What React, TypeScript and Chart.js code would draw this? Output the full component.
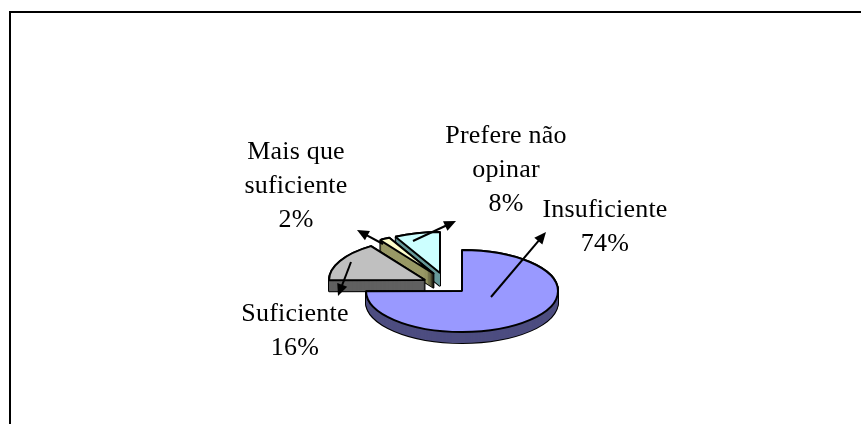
import React, { useEffect, useRef } from "react";
import { Chart, registerables } from "chart.js";

Chart.register(...registerables);

const categories = ["Insuficiente", "Suficiente", "Mais que suficiente", "Prefere não opinar"];
const values = [74.9, 15.6, 1.8, 7.7];
const topColors = ["#9999FF", "#C0C0C0", "#FFFFCC", "#CCFFFF"];
const sideColors = ["#4D4D80", "#606060", "#999966", "#669999"];
const sliceCenters = [[462, 291], [425, 280], [434, 274], [440, 273]];
const sliceDepths = [11, 11, 14, 13];
const drawOrder = [3, 2, 1, 0];
const labelLines = [
  { lines: ["Insuficiente", "74%"], x: 605, y: 217 },
  { lines: ["Suficiente", "16%"], x: 295, y: 321 },
  { lines: ["Mais que", "suficiente", "2%"], x: 296, y: 159 },
  { lines: ["Prefere não", "opinar", "8%"], x: 506, y: 143 },
];
const arrows = [
  [491, 297, 546, 232],
  [351, 262, 338, 296],
  [383, 244, 357, 230],
  [413, 241, 456, 221],
];

const SQUASH = 41 / 96;
const FONT = "26px 'Liberation Serif'";

const piePlugin = {
  id: "flatPie",
  beforeDatasetDraw(chart: any) {
    const ctx: CanvasRenderingContext2D = chart.ctx;
    const arcs = chart.getDatasetMeta(0).data;
    const drawArc = (i: number, dy: number, fill: string, stroke: boolean) => {
      const arc = arcs[i];
      const [cx, cy] = sliceCenters[i];
      ctx.save();
      ctx.translate(cx, cy + dy);
      ctx.scale(1, SQUASH);
      ctx.translate(-arc.x, -arc.y);
      const o = arc.options;
      const saved = [o.backgroundColor, o.borderWidth, o.borderColor];
      o.backgroundColor = fill;
      o.borderWidth = stroke ? 1 : 0;
      o.borderColor = "#000000";
      const origStroke = ctx.stroke;
      (ctx as any).stroke = function () {
        const m = ctx.getTransform();
        ctx.resetTransform();
        ctx.lineWidth = 2;
        origStroke.call(ctx);
        ctx.setTransform(m);
      };
      arc.draw(ctx);
      delete (ctx as any).stroke;
      o.backgroundColor = saved[0];
      o.borderWidth = saved[1];
      o.borderColor = saved[2];
      ctx.restore();
    };
    for (const i of drawOrder) {
      const depth = sliceDepths[i];
      for (let d = depth; d >= 0; d--) drawArc(i, d, sideColors[i], true);
      for (let d = depth; d >= 1; d--) drawArc(i, d, sideColors[i], false);
      drawArc(i, 0, topColors[i], true);
    }
    return false;
  },
  afterDraw(chart: any) {
    const ctx: CanvasRenderingContext2D = chart.ctx;
    ctx.save();
    ctx.strokeStyle = "#000000";
    ctx.fillStyle = "#000000";
    ctx.lineWidth = 2;
    for (const [x1, y1, x2, y2] of arrows) {
      const a = Math.atan2(y2 - y1, x2 - x1);
      ctx.beginPath();
      ctx.moveTo(x1, y1);
      ctx.lineTo(x2 - 6 * Math.cos(a), y2 - 6 * Math.sin(a));
      ctx.stroke();
      ctx.beginPath();
      ctx.moveTo(x2, y2);
      ctx.lineTo(x2 - 13 * Math.cos(a - 0.42), y2 - 13 * Math.sin(a - 0.42));
      ctx.lineTo(x2 - 13 * Math.cos(a + 0.42), y2 - 13 * Math.sin(a + 0.42));
      ctx.closePath();
      ctx.fill();
    }
    ctx.font = FONT;
    (ctx as any).letterSpacing = "0.2px";
    ctx.textAlign = "center";
    ctx.textBaseline = "alphabetic";
    for (const l of labelLines) {
      l.lines.forEach((t, k) => ctx.fillText(t, l.x, l.y + k * 34));
    }
    ctx.restore();
  },
};

export default function App() {
  const ref = useRef<HTMLCanvasElement>(null);
  useEffect(() => {
    document.body.style.margin = "0";
    const chart = new Chart(ref.current!, {
      type: "pie",
      data: {
        labels: categories,
        datasets: [{ data: values, backgroundColor: topColors, borderColor: "#000", borderWidth: 1, radius: 96 } as any],
      },
      options: {
        responsive: false,
        animation: false,
        plugins: { legend: { display: false }, tooltip: { enabled: false } },
      },
      plugins: [piePlugin as any],
    });
    return () => chart.destroy();
  }, []);
  return (
    <div style={{ position: "absolute", left: 0, top: 0, width: 861, height: 424, overflow: "hidden", background: "#fff" }}>
      <div style={{ position: "absolute", left: 9, top: 11, width: 860, height: 440, borderLeft: "2px solid #000", borderTop: "2px solid #000" }} />
      <canvas ref={ref} width={861} height={424} style={{ position: "absolute", left: 0, top: 0, display: "block" }} />
    </div>
  );
}
